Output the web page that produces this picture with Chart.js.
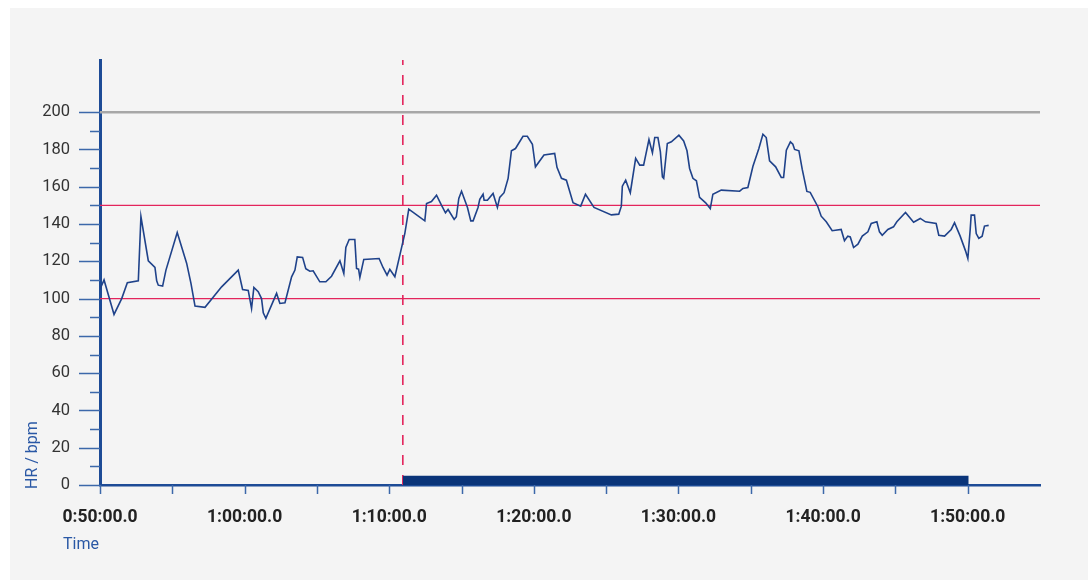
<!DOCTYPE html>
<html>
<head>
<meta charset="utf-8">
<script src="https://cdn.jsdelivr.net/npm/chart.js@4/dist/chart.umd.min.js"></script>
<style>
  html, body { margin: 0; padding: 0; background: #ffffff; }
  #wrap { position: relative; width: 1088px; height: 580px; }
</style>
</head>
<body>
<div id="wrap"><canvas id="hr" width="1088" height="580"></canvas></div>
<script>
// Elapsed time in minutes (since 0:00:00) and heart rate in bpm
const timeMin = [50.00, 50.28, 50.97, 51.50, 51.89, 52.65, 52.83, 53.34, 53.80, 53.92, 54.03, 54.33, 54.56, 55.34, 55.99, 56.29, 56.57, 57.26, 58.41, 59.56,
  59.86, 60.25, 60.48, 60.64, 60.94, 61.17, 61.29, 61.47, 62.21, 62.44, 62.79, 63.25, 63.48, 63.64, 64.01, 64.23, 64.51, 64.74, 65.20, 65.62,
  66.01, 66.59, 66.86, 67.00, 67.23, 67.62, 67.74, 67.88, 67.97, 68.24, 69.30, 69.57, 69.85, 70.04, 70.39, 71.08, 71.35, 72.46, 72.58, 72.92,
  73.27, 73.61, 73.89, 74.07, 74.49, 74.64, 74.81, 75.00, 75.41, 75.64, 75.80, 76.14, 76.26, 76.49, 76.56, 76.79, 77.18, 77.48, 77.64, 77.94,
  78.22, 78.45, 78.73, 79.25, 79.55, 79.90, 80.11, 80.70, 81.44, 81.60, 81.91, 82.25, 82.71, 83.24, 83.57, 84.16, 85.36, 85.87, 86.05, 86.12,
  86.35, 86.67, 87.04, 87.32, 87.59, 87.96, 88.20, 88.36, 88.58, 88.75, 88.89, 88.98, 89.23, 89.51, 90.03, 90.36, 90.59, 90.77, 91.00, 91.24,
  91.46, 91.88, 92.20, 92.38, 92.96, 94.23, 94.46, 94.80, 95.15, 95.56, 95.84, 96.07, 96.30, 96.72, 97.11, 97.27, 97.46, 97.74, 97.91, 98.03,
  98.33, 98.56, 98.88, 99.11, 99.64, 99.87, 100.22, 100.63, 101.25, 101.48, 101.71, 101.88, 102.11, 102.41, 102.71, 103.10, 103.33, 103.72, 103.90, 104.09,
  104.48, 104.87, 105.10, 105.70, 106.26, 106.72, 107.08, 107.82, 108.00, 108.40, 108.86, 109.09, 109.21, 109.48, 109.85, 110.01, 110.17, 110.24, 110.47, 110.59,
  110.77, 111.00, 111.16, 111.45];
const heartRate = [105, 110, 91.5, 100, 108.5, 109.5, 144, 120.3, 116.7, 109.5, 107.2, 106.7, 115.3, 135.5, 119, 108.2, 96, 95.3, 106.3, 115.3,
  104.9, 104.4, 94.7, 106, 103.7, 100, 92.4, 89.4, 102.8, 97.4, 97.8, 111.7, 115.3, 122.4, 122.1, 116, 114.7, 114.9, 109, 109,
  112, 120.3, 113.5, 127.4, 131.7, 131.7, 116.2, 115.8, 111.4, 121, 121.5, 116.7, 112.6, 115.7, 111.7, 135, 148, 141.7, 151, 152.1,
  155.5, 150.1, 146, 147.8, 142.5, 143.9, 153.7, 157.6, 148.9, 141.7, 141.7, 148.9, 153.2, 156, 152.8, 152.8, 156.4, 148.9, 154.3, 156.8,
  164.5, 179.3, 180.5, 187.1, 187.1, 182.8, 170.7, 177, 177.9, 170.4, 164.5, 163.5, 151.4, 149.6, 156, 148.9, 144.9, 145.3, 149.6, 160.3,
  163.5, 156.8, 175.2, 171.6, 171.6, 185.3, 178.2, 186.4, 186.4, 178.7, 165.3, 164.5, 183.2, 184.1, 187.7, 184.6, 179.3, 169.8, 164.5, 163.2,
  154.3, 151.4, 148.3, 156, 158.2, 157.6, 159.1, 159.6, 171, 180.5, 188.2, 186.4, 173.9, 170.7, 165, 165, 179.6, 184.1, 182.8, 180,
  179.3, 169.3, 157.5, 157, 149.3, 144.2, 141.2, 136.4, 137.1, 131, 133.5, 133.1, 127.4, 129.2, 133.5, 135.8, 140.3, 141.2, 135.8, 134,
  137.1, 138.5, 141.2, 146.2, 141, 143, 141.2, 140.3, 134, 133.5, 137.1, 140.7, 138.5, 133.5, 125.6, 121.5, 136.7, 144.8, 144.8, 134.9,
  132.3, 133.5, 138.9, 139.3];

// Axis ranges and reference levels
const xRange = [50, 115];          // minutes
const yRange = [0, 228];           // bpm
const maxHr = 200;                 // grey reference
const zoneLimits = [100, 150];     // red zone boundaries
const lapStart = 70.94;            // dashed marker / start of lap bar
const lapEnd = 110.07;             // end of lap bar
const lapBarHeight = 5;            // bpm
const xTitle = 'Time';
const yTitle = 'HR / bpm';

const AXIS_BLUE = '#1d4b96';
const LINE_BLUE = '#1f428a';
const RED = '#e3245c';

function fmtTime(min) {
  const h = Math.floor(min / 60);
  const m = Math.round(min - h * 60);
  return h + ':' + String(m).padStart(2, '0') + ':00.0';
}

const hrPoints = timeMin.slice(0, Math.min(timeMin.length, heartRate.length)).map((t, i) => ({ x: t, y: heartRate[i] }));
const hLine = v => [{ x: xRange[0], y: v }, { x: xRange[1], y: v }];

const decor = {
  id: 'decor',
  beforeDraw(chart) {
    const c = chart.ctx;
    c.save();
    c.fillStyle = '#ffffff';
    c.fillRect(0, 0, chart.width, chart.height);
    c.fillStyle = '#f4f4f4';
    c.fillRect(10, 8, chart.width - 10, chart.height - 8);
    c.restore();
  },
  afterDraw(chart) {
    const c = chart.ctx;
    const xs = chart.scales.x, ys = chart.scales.y;
    const left = chart.chartArea.left, bottom = chart.chartArea.bottom;
    c.save();
    c.strokeStyle = '#3c68aa';
    c.lineWidth = 1.5;
    // y tick marks: long every 20, short every 10
    for (let v = 0; v <= maxHr; v += 10) {
      const y = Math.round(ys.getPixelForValue(v)) + 0.5;
      const len = v % 20 === 0 ? 21 : 10;
      c.beginPath(); c.moveTo(left - len, y); c.lineTo(left, y); c.stroke();
    }
    // x tick marks every 5 minutes
    for (let v = 50; v <= 110; v += 5) {
      const x = Math.round(xs.getPixelForValue(v)) + 0.5;
      c.beginPath(); c.moveTo(x, bottom); c.lineTo(x, bottom + 9); c.stroke();
    }
    // axis titles
    c.fillStyle = '#2a58a5';
    c.font = '16px Roboto';
    c.textBaseline = 'middle';
    c.textAlign = 'left';
    c.fillText(xTitle, 63, 545);
    c.translate(33, 489);
    c.rotate(-Math.PI / 2);
    c.fillText(yTitle, 0, 0);
    c.restore();
  }
};

new Chart(document.getElementById('hr'), {
  type: 'line',
  data: {
    datasets: [
      { data: hrPoints, borderColor: LINE_BLUE, borderWidth: 1.6, pointRadius: 0, tension: 0, order: 1 },
      { data: hLine(maxHr), borderColor: '#a7a7a7', borderWidth: 2.5, pointRadius: 0, order: 3 },
      { data: hLine(zoneLimits[0]), borderColor: RED, borderWidth: 1.3, pointRadius: 0, order: 3 },
      { data: hLine(zoneLimits[1]), borderColor: RED, borderWidth: 1.3, pointRadius: 0, order: 3 },
      { data: [{ x: lapStart, y: yRange[0] }, { x: lapStart, y: yRange[1] }], borderColor: RED, borderWidth: 1.6,
        borderDash: [10, 10], pointRadius: 0, order: 2 },
      { data: [{ x: lapStart, y: lapBarHeight }, { x: lapEnd, y: lapBarHeight }], borderWidth: 0, borderColor: 'rgba(0,0,0,0)',
        backgroundColor: '#0a3479', fill: 'origin', pointRadius: 0, order: 0 }
    ]
  },
  options: {
    responsive: false,
    animation: false,
    events: [],
    layout: { padding: { left: 0, top: 60, right: 48, bottom: 0 } },
    plugins: { legend: { display: false }, tooltip: { enabled: false }, filler: { propagate: false } },
    scales: {
      x: {
        type: 'linear', min: xRange[0], max: xRange[1],
        afterFit: s => { s.height = 95; },
        border: { display: true, color: AXIS_BLUE, width: 2.5 },
        grid: { display: true, drawOnChartArea: false, drawTicks: false, color: 'rgba(0,0,0,0)' },
        ticks: {
          stepSize: 5, autoSkip: false, maxRotation: 0, padding: 22,
          color: '#222222', font: { family: 'Roboto', size: 17.5, weight: 'bold' },
          callback: v => (v % 10 === 0 && v <= 110) ? fmtTime(v) : ''
        }
      },
      y: {
        type: 'linear', min: yRange[0], max: yRange[1],
        afterFit: s => { s.width = 100; },
        border: { display: true, color: AXIS_BLUE, width: 3 },
        grid: { display: true, drawOnChartArea: false, drawTicks: false, color: 'rgba(0,0,0,0)' },
        ticks: {
          stepSize: 10, autoSkip: false, padding: 30,
          color: '#333333', font: { family: 'Roboto', size: 16.5 },
          callback: v => (v % 20 === 0 && v <= 200) ? String(v) : ''
        }
      }
    }
  },
  plugins: [decor]
});
</script>
</body>
</html>
